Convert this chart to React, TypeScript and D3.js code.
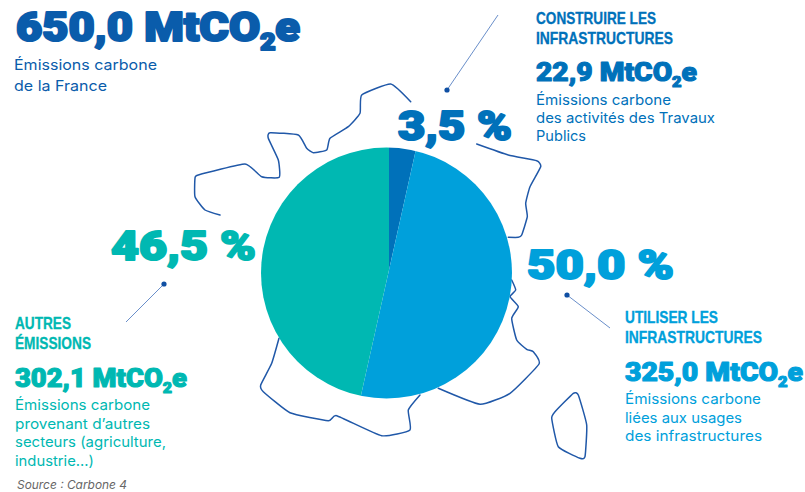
import React from "react";
import * as d3 from "d3";

// Share of French carbon emissions, in percent and MtCO2e
const segmentNames = ["construire", "utiliser", "autres"];
const segmentShares = [3.5, 50.0, 46.5];
const segmentColors = ["#0071ba", "#00a0db", "#00b8b2"];
const shareLabels = ["3,5 %", "50,0 %", "46,5 %"];
const massLabels = ["22,9 MtCO", "325,0 MtCO", "302,1 MtCO"];
const totalLabel = "650,0 MtCO";

const headingLines = [["CONSTRUIRE LES", "INFRASTRUCTURES"], ["UTILISER LES", "INFRASTRUCTURES"], ["AUTRES", "ÉMISSIONS"]];
const bodyLines = [
  ["Émissions carbone", "des activités des Travaux", "Publics"],
  ["Émissions carbone", "liées aux usages", "des infrastructures"],
  ["Émissions carbone", "provenant d’autres", "secteurs (agriculture,", "industrie...)"],
];
const totalBody = ["Émissions carbone", "de la France"];
const sourceLabel = "Source : Carbone 4";

// Hand-traced pieces of the French coastline and borders
const northCoast: [number, number][] = [[410.7,101.7],[390.7,84],[361.7,95],[360,113.3],[348.3,126.7],[330,138.3],[326.7,150],[313.3,152.7],[306.7,148.3],[298.3,135],[270,132.7],[268.3,138.3],[278.3,160],[279.3,177.3],[261.7,176.7],[245,164],[198.3,175],[195,178.3],[195,196.7],[205,210],[220,215]];
const northEast: [number, number][] = [[476.7,144],[508.3,155],[536.7,160.7],[540.7,166.7],[530,186.7],[525.7,203.3],[527.3,216.7],[521.7,235],[518.3,237.3],[508.3,237.3]];
const southEast: [number, number][] = [[511.7,280],[515.7,290],[510,296.7],[518.3,306.7],[511.7,318.3],[516.7,340],[526.7,349.3],[533.3,351.7],[539,364],[510,393.3],[480,404.3],[438.3,388.3]];
const southWest: [number, number][] = [[279,338.3],[271.7,363.3],[260.7,385],[263.3,391.7],[290,412.7],[328.3,420.7],[336.7,415.7],[381.7,435.7],[410,430],[408.3,410],[420,395]];
const corsica: [number, number][] = [[573.3,393.3],[578.3,395],[586.7,425],[585,456.7],[580,458.3],[558.3,446.7],[551.7,418.3],[555,411.7]];

const BLACK = "Roboto, Inter, sans-serif";
const BODY = "Inter, 'Open Sans', sans-serif";
const NARROW = "'Liberation Sans Narrow', 'Liberation Sans', sans-serif";
const TOTAL_COLOR = "#0a5cab";
const OUTLINE = "#2058a8";

function Mass({ label, color, x, y, end, size, weight }: any) {
  return (
    <text x={x} y={y} fill={color} stroke={color} strokeWidth={weight} strokeLinejoin="round" fontFamily={BLACK} fontWeight={900} fontSize={size} textLength={end - x} lengthAdjust="spacingAndGlyphs">
      {label}
      <tspan dy={size * 0.22} fontSize={size * 0.58}>2</tspan>
      <tspan dy={-size * 0.22}>e</tspan>
    </text>
  );
}

function Lines({ lines, x, ys, color, widths }: any) {
  return (
    <g fill={color} fontFamily={BODY} fontSize={14.5}>
      {lines.map((t: string, i: number) => (
        <text key={i} x={x} y={ys[i]} textLength={widths[i]} lengthAdjust="spacingAndGlyphs">{t}</text>
      ))}
    </g>
  );
}

function Heading({ lines, x, ys, color, widths }: any) {
  return (
    <g fill={color} stroke={color} strokeWidth={0.3} fontFamily={NARROW} fontWeight={700} fontSize={16.5}>
      {lines.map((t: string, i: number) => (
        <text key={i} x={x} y={ys[i]} textLength={widths[i]} lengthAdjust="spacingAndGlyphs">{t}</text>
      ))}
    </g>
  );
}

function Leader({ from, to }: any) {
  return (
    <g>
      <line x1={from[0]} y1={from[1]} x2={to[0]} y2={to[1]} stroke="#6a8fca" strokeWidth={1} />
      <circle cx={from[0]} cy={from[1]} r={2.6} fill="#0f4fa3" />
    </g>
  );
}

export default function App() {
  const pie = d3.pie<number>().sort(null).value((d) => d);
  // Wedges meet slightly off the disc's centre, so they are cut by a round clip
  const arc = d3.arc<d3.PieArcDatum<number>>().innerRadius(0).outerRadius(132);
  const slices = pie(segmentShares);
  const line = d3.line().curve(d3.curveCardinal.tension(0.55));
  const ring = d3.line().curve(d3.curveCardinalClosed.tension(0.55));

  return (
    <svg width={805} height={492} style={{ position: "absolute", left: 0, top: 0, background: "#fff" }}>
      <defs>
        <clipPath id="disc">
          <circle cx={386.5} cy={273} r={125.5} />
        </clipPath>
      </defs>
      <g fill="none" stroke={OUTLINE} strokeWidth={1.5} strokeLinecap="round" strokeLinejoin="round">
        {[northCoast, northEast, southEast, southWest].map((p, i) => (
          <path key={i} d={line(p) as string} />
        ))}
        <path d={ring(corsica) as string} />
      </g>

      <g clipPath="url(#disc)">
        <g transform="translate(389,270)">
          {slices.map((s, i) => (
            <path key={segmentNames[i]} d={arc(s) as string} fill={segmentColors[i]} />
          ))}
        </g>
      </g>

      <Leader from={[447, 90]} to={[498, 15]} />
      <Leader from={[567, 295]} to={[610, 328]} />
      <Leader from={[164, 284]} to={[126, 322]} />

      <g fontFamily={BLACK} fontWeight={900} fontSize={41} strokeWidth={2} strokeLinejoin="round">
        <text x={398} y={140} fill={segmentColors[0]} stroke={segmentColors[0]} textLength={114} lengthAdjust="spacingAndGlyphs">{shareLabels[0]}</text>
        <text x={527} y={279} fill={segmentColors[1]} stroke={segmentColors[1]} textLength={147} lengthAdjust="spacingAndGlyphs">{shareLabels[1]}</text>
        <text x={111} y={260} fill={segmentColors[2]} stroke={segmentColors[2]} textLength={145} lengthAdjust="spacingAndGlyphs">{shareLabels[2]}</text>
      </g>

      {/* National total */}
      <Mass label={totalLabel} color={TOTAL_COLOR} x={16} y={41} end={300} size={41} weight={2.2} />
      <Lines lines={totalBody} x={14} ys={[70, 91]} color={TOTAL_COLOR} widths={[143, 93]} />

      {/* Construction */}
      <Heading lines={headingLines[0]} x={536} ys={[24, 44]} color={segmentColors[0]} widths={[120, 137]} />
      <Mass label={massLabels[0]} color={segmentColors[0]} x={536} y={81} end={697} size={25.5} weight={1.1} />
      <Lines lines={bodyLines[0]} x={536} ys={[105, 123, 141]} color={segmentColors[0]} widths={[135, 179, 50]} />

      {/* Use */}
      <Heading lines={headingLines[1]} x={625} ys={[323, 343]} color={segmentColors[1]} widths={[93, 137]} />
      <Mass label={massLabels[1]} color={segmentColors[1]} x={625} y={381} end={803} size={25.5} weight={1.1} />
      <Lines lines={bodyLines[1]} x={625} ys={[404, 423, 441]} color={segmentColors[1]} widths={[136, 117, 137]} />

      {/* Other sectors */}
      <Heading lines={headingLines[2]} x={15} ys={[329, 349]} color={segmentColors[2]} widths={[56, 76]} />
      <Mass label={massLabels[2]} color={segmentColors[2]} x={15} y={387} end={187} size={25.5} weight={1.1} />
      <Lines lines={bodyLines[2]} x={15} ys={[410, 429, 447, 466]} color={segmentColors[2]} widths={[135, 135, 151, 79]} />

      <text x={17} y={489} fill="#666" fontFamily={BODY} fontStyle="italic" fontSize={12} textLength={110} lengthAdjust="spacingAndGlyphs">{sourceLabel}</text>
    </svg>
  );
}
